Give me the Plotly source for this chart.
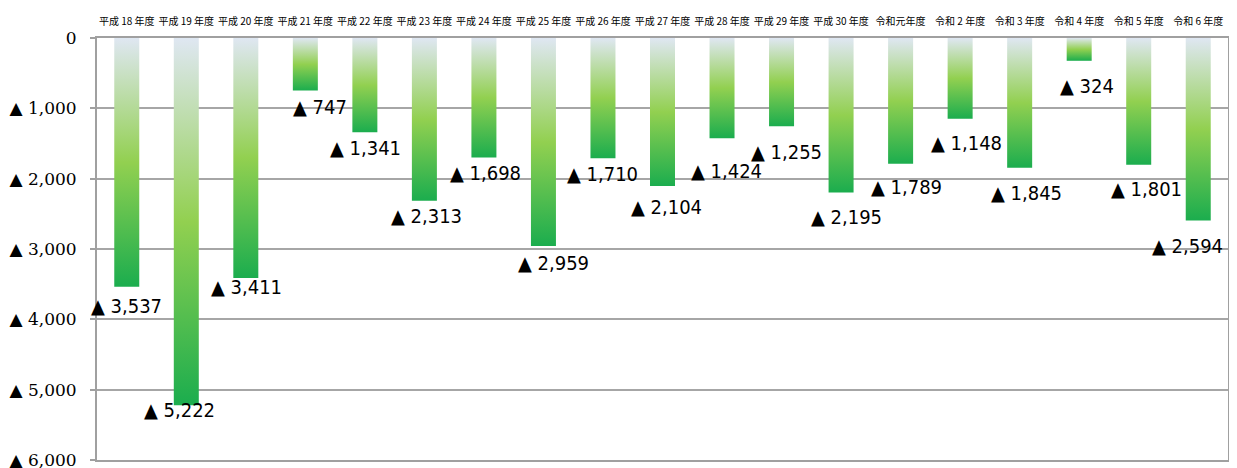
import plotly.graph_objects as go

categories = ["平成 18 年度", "平成 19 年度", "平成 20 年度", "平成 21 年度", "平成 22 年度",
              "平成 23 年度", "平成 24 年度", "平成 25 年度", "平成 26 年度", "平成 27 年度",
              "平成 28 年度", "平成 29 年度", "平成 30 年度", "令和元年度", "令和 2 年度",
              "令和 3 年度", "令和 4 年度", "令和 5 年度", "令和 6 年度"]
values = [3537, 5222, 3411, 747, 1341, 2313, 1698, 2959, 1710, 2104,
          1424, 1255, 2195, 1789, 1148, 1845, 324, 1801, 2594]
y_ticks = [0, 1000, 2000, 3000, 4000, 5000, 6000]
y_ticktext = ["0", "▲ 1,000", "▲ 2,000", "▲ 3,000", "▲ 4,000", "▲ 5,000", "▲ 6,000"]

# label placement tweaks (pixels) relative to bar end
label_dx = [0, -7, 1, 15, 1, 2, 2, 10, 0, 4, 4, 5, 5, 6, 6, 7, 8, 8, -11]
label_dy = [19, 5, 9, 16, 16, 15, 16, 17, 16, 21, 33, 26, 25, 23, 24, 25, 25, 24, 26]

HALF = 0.21
scale = [[0, "#dfe7f2"], [0.5, "#92d050"], [1, "#1bad4e"]]

fig = go.Figure()
for i, v in enumerate(values):
    xs = [i - HALF, i + HALF, i + HALF, i - HALF, i - HALF]
    ys = [0, 0, v, v, 0]
    fig.add_trace(go.Scatter(
        x=xs, y=ys, mode="lines", fill="toself", line=dict(width=0),
        fillgradient=dict(type="vertical", colorscale=scale, start=0, stop=v),
        hoverinfo="skip", showlegend=False))

for i, v in enumerate(values):
    fig.add_annotation(
        x=i, y=v, text=f"▲ {v:,}", showarrow=False,
        xshift=label_dx[i], yshift=-label_dy[i],
        font=dict(family="DejaVu Sans Condensed", size=20, color="black"))

# the page body has an 8px margin, so the figure is sized to fit the window
fig.update_layout(
    width=1229, height=460,
    margin=dict(l=89, r=9, t=30, b=8),
    paper_bgcolor="white", plot_bgcolor="white",
    xaxis=dict(range=[-0.5, len(values) - 0.5], side="top",
               tickvals=list(range(len(categories))), ticktext=categories,
               tickangle=0, automargin=False, ticklabelstandoff=7,
               tickfont=dict(family="Noto Sans CJK JP", size=10, color="black"),
               showgrid=False, zeroline=False, ticks="",
               showline=True, linecolor="#a0a0a0", linewidth=2, mirror=True),
    yaxis=dict(range=[6000, 0], tickvals=y_ticks, ticktext=y_ticktext,
               tickfont=dict(family="DejaVu Serif", size=17, color="black"),
               showgrid=True, gridcolor="#a6a6a6", gridwidth=2, zeroline=False,
               ticks="outside", ticklen=5, tickcolor="#a0a0a0", tickwidth=2,
               ticklabelstandoff=10, ticklabeloverflow="allow", automargin=False,
               showline=True, linecolor="#a0a0a0", linewidth=2, mirror=True),
)

fig.write_html("out.html")
